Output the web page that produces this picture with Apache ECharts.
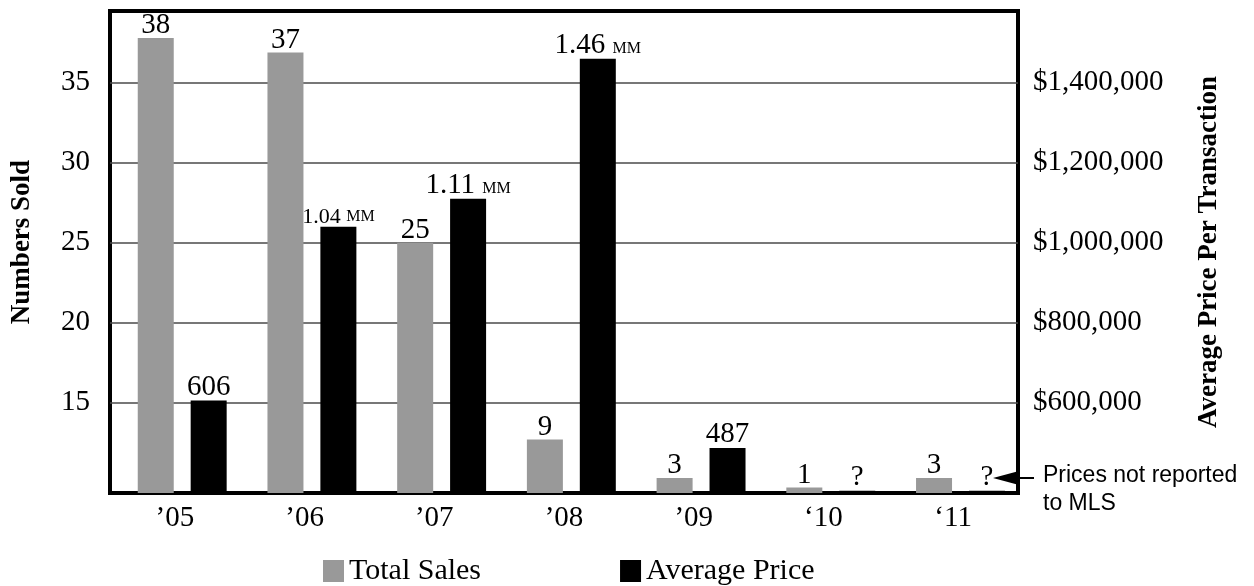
<!DOCTYPE html>
<html>
<head>
<meta charset="utf-8">
<script src="https://cdn.jsdelivr.net/npm/echarts@6/dist/echarts.min.js"></script>
<style>
html,body{margin:0;padding:0;background:#fff}
#chart{width:1254px;height:586px}
</style>
</head>
<body>
<div id="chart"></div>
<script>
var years = ['’05', '’06', '’07', '’08', '’09', '‘10', '‘11'];
var salesCount = [38, 37, 25, 9, 3, 1, 3];
// where the grey bars actually top out on the left scale (small counts are drawn as stubs)
var salesBarTop = [37.8, 36.9, 25, 12.7, 10.3, 9.7, 10.3];
var avgPrice = [606000, 1040000, 1110000, 1460000, 487000, null, null];
var notReportedStub = 380000;
var countTicks = [15, 20, 25, 30, 35];
var priceTicks = [600000, 800000, 1000000, 1200000, 1400000];

var serif = 'Liberation Serif';
var sans = 'Liberation Sans';

function priceText(p) {
    var v = avgPrice[p.dataIndex];
    if (v == null) return '?';
    if (v >= 1000000) return (v / 1000000).toFixed(2) + ' {mm|MM}';
    return String(v / 1000);
}

var myChart = echarts.init(document.getElementById('chart'));

var option = {
    animation: false,
    backgroundColor: '#fff',
    grid: {
        left: 110, right: 236, top: 11, bottom: 93,
        show: true, borderColor: '#000', borderWidth: 4,
        outerBoundsMode: 'none'
    },
    legend: {
        data: ['Total Sales', 'Average Price'],
        left: 318, top: 551,
        icon: 'rect', itemWidth: 21, itemHeight: 22, itemGap: 139,
        textStyle: { fontFamily: serif, fontSize: 30, color: '#000' }
    },
    xAxis: {
        type: 'category',
        data: years,
        axisLine: { show: false },
        axisTick: { show: false },
        axisLabel: { fontFamily: serif, fontSize: 29, color: '#000', margin: 11 }
    },
    yAxis: [{
        type: 'value',
        min: 9.36, max: 39.49,
        name: 'Numbers Sold',
        nameLocation: 'middle', nameRotate: 90, nameGap: 74,
        nameTextStyle: { fontFamily: serif, fontSize: 27, fontWeight: 'bold', color: '#000', padding: [0, 0, 0, 20] },
        axisLine: { show: false },
        axisTick: { show: false, customValues: countTicks },
        axisLabel: { customValues: countTicks, fontFamily: serif, fontSize: 29, color: '#000', margin: 20 },
        splitLine: { show: true, lineStyle: { color: '#4a4a4a', width: 1.6 } }
    }, {
        type: 'value',
        min: 374500, max: 1579500,
        name: 'Average Price Per Transaction',
        nameLocation: 'middle', nameRotate: 90, nameGap: 178,
        nameTextStyle: { fontFamily: serif, fontSize: 27, fontWeight: 'bold', color: '#000' },
        axisLine: { show: false },
        axisTick: { show: false, customValues: priceTicks },
        axisLabel: {
            customValues: priceTicks, fontFamily: serif, fontSize: 29, color: '#000', margin: 15,
            formatter: function (v) { return '$' + v.toLocaleString('en-US'); }
        },
        splitLine: { show: false }
    }],
    series: [{
        // empty spacer so the bar pair sits slightly right of each tick, as in the original
        name: 'spacer', type: 'bar', data: [], barWidth: 10, barGap: '47%', silent: true
    }, {
        name: 'Total Sales', type: 'bar', yAxisIndex: 0,
        barWidth: 36, barGap: '47%',
        itemStyle: { color: '#999999' },
        label: {
            show: true, position: 'top', distance: -2,
            fontFamily: serif, fontSize: 29, color: '#000',
            formatter: function (p) { return String(salesCount[p.dataIndex]); }
        },
        data: salesBarTop
    }, {
        name: 'Average Price', type: 'bar', yAxisIndex: 1,
        barWidth: 36, barGap: '47%',
        itemStyle: { color: '#000' },
        label: {
            show: true, position: 'top', distance: -1,
            fontFamily: serif, fontSize: 29, color: '#000',
            formatter: priceText,
            rich: { mm: { fontFamily: serif, fontSize: 16, color: '#000', verticalAlign: 'bottom', padding: [0, 0, 3, 0] } }
        },
        data: avgPrice.map(function (v, i) {
            var item = { value: v == null ? notReportedStub : v };
            if (i === 1) item.label = { fontSize: 22 };
            return item;
        })
    }],
    graphic: [{
        type: 'polygon', z: 100,
        shape: { points: [[993, 478], [1019, 471], [1019, 485]] },
        style: { fill: '#000' }
    }, {
        type: 'line', z: 100,
        shape: { x1: 1005, y1: 478, x2: 1034, y2: 478 },
        style: { stroke: '#000', lineWidth: 2 }
    }, {
        type: 'text', z: 100, left: 1043, top: 462,
        style: {
            text: 'Prices not reported\nto MLS',
            font: '23px ' + sans, lineHeight: 28, fill: '#000'
        }
    }]
};

myChart.setOption(option);
</script>
</body>
</html>
